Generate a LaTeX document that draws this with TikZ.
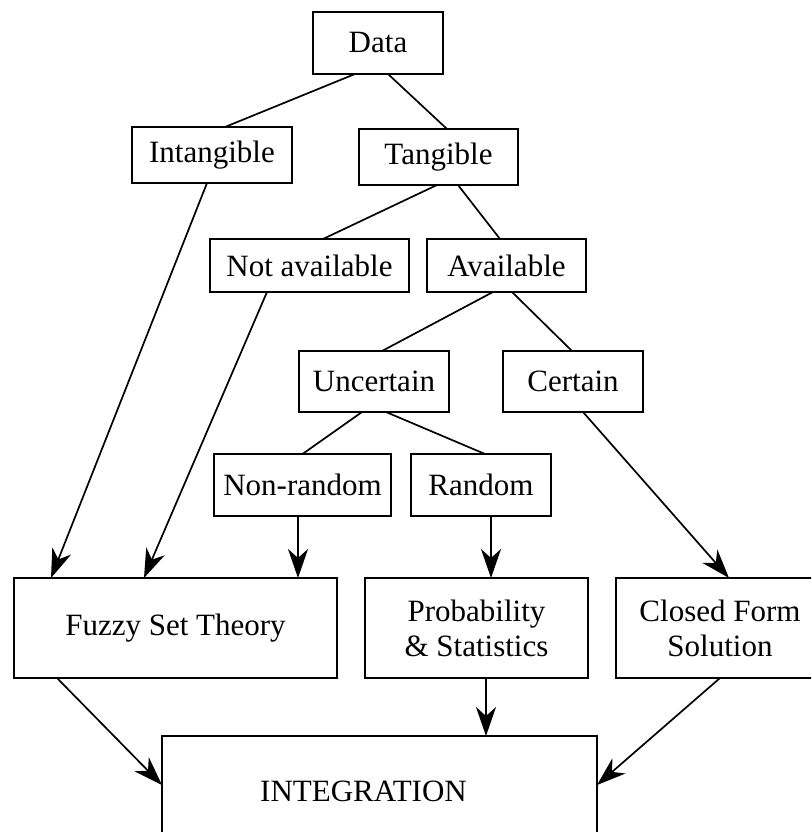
\documentclass[tikz,border=0pt]{standalone}
\usepackage{fontspec}
\setmainfont{Liberation Serif}
\usetikzlibrary{positioning,arrows.meta}

\begin{document}
\begin{tikzpicture}[
  x=1pt, y=-1pt,
  font=\fontsize{31}{35}\selectfont,
  box/.style={draw, line width=1.9pt, align=center, inner sep=0pt, outer sep=0pt},
  ln/.style={line width=1.7pt},
  arr/.style={-{Stealth[length=29pt, width=20pt, inset=9pt]}, line width=1.7pt}
]
\useasboundingbox (0,0) rectangle (811,832);
\clip (0,0) rectangle (811,832);
\node[box, minimum width=130pt, minimum height=62pt] (data) at (378,43) {Data};
\node[box, minimum width=160pt, minimum height=56pt] (intang) at (212,155) {Intangible};
\node[box, minimum width=159pt, minimum height=56pt] (tang) at (438.5,157) {Tangible};
\node[box, minimum width=199pt, minimum height=53pt] (notavail) at (309.5,265.5) {Not available};
\node[box, minimum width=159pt, minimum height=53pt, right=18pt of notavail] (avail) {Available};
\node[box, minimum width=150pt, minimum height=61pt] (uncert) at (374,381.5) {Uncertain};
\node[box, minimum width=140pt, minimum height=61pt, right=54pt of uncert] (cert) {Certain};
\node[box, minimum width=177pt, minimum height=62pt] (nonrand) at (302.5,485) {Non-random};
\node[box, minimum width=140pt, minimum height=62pt, right=20pt of nonrand] (rand) {Random};
\node[box, minimum width=323pt, minimum height=100pt] (fuzzy) at (175.5,628) {Fuzzy Set Theory};
\node[box, minimum width=223pt, minimum height=100pt, right=28pt of fuzzy] (prob) {Probability\\ \& Statistics};
\node[box, minimum width=208pt, minimum height=100pt, right=28pt of prob] (closed) {Closed Form\\ Solution};
\node[box, minimum width=435pt, minimum height=110pt] (integ) at (379.5,791) {INTEGRATION\hspace*{32pt}};
\draw[ln] ([xshift=-23pt]data.south) -- ([xshift=13pt]intang.north);
\draw[ln] ([xshift=10pt]data.south) -- ([xshift=8.5pt]tang.north);
\draw[ln] ([xshift=-1.5pt]tang.south) -- ([xshift=13.5pt]notavail.north);
\draw[ln] ([xshift=19.5pt]tang.south) -- ([xshift=-6.5pt]avail.north);
\draw[ln] ([xshift=-13.5pt]avail.south) -- ([xshift=8pt]uncert.north);
\draw[ln] ([xshift=5.5pt]avail.south) -- ([xshift=-1pt]cert.north);
\draw[ln] ([xshift=-12pt]uncert.south) -- (nonrand.north);
\draw[ln] ([xshift=12pt]uncert.south) -- ([xshift=4pt]rand.north);
\draw[arr] ([xshift=-5pt]intang.south) -- ([xshift=-124.5pt]fuzzy.north);
\draw[arr] ([xshift=-42.5pt]notavail.south) -- ([xshift=-31.5pt]fuzzy.north);
\draw[arr] ([xshift=-4.5pt]nonrand.south) -- ([xshift=122.5pt]fuzzy.north);
\draw[arr] ([xshift=10pt]rand.south) -- ([xshift=14.5pt]prob.north);
\draw[arr] ([xshift=10pt]cert.south) -- ([xshift=9pt]closed.north);
\draw[arr] ([xshift=-118.5pt]fuzzy.south) -- ([yshift=6pt]integ.west);
\draw[arr] ([xshift=9.5pt]prob.south) -- ([xshift=106.5pt]integ.north);
\draw[arr] (closed.south) -- ([yshift=6pt]integ.east);
\end{tikzpicture}
\end{document}
